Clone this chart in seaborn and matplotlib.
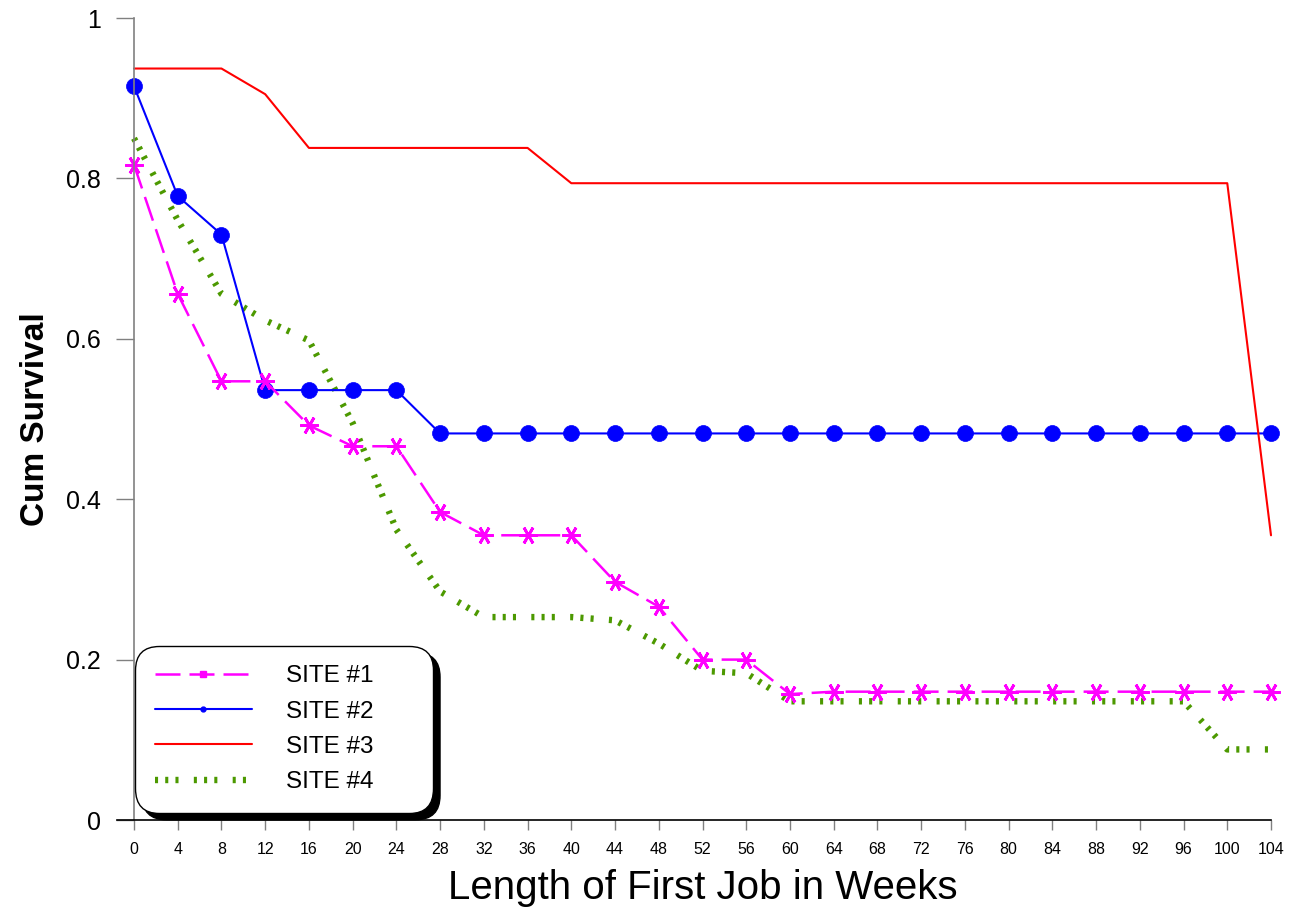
import matplotlib
matplotlib.use('Agg')
import matplotlib.pyplot as plt
from matplotlib.lines import Line2D
from matplotlib.patches import FancyBboxPatch
from matplotlib.transforms import IdentityTransform
import seaborn as sns

# weeks on the x axis
weeks = [0, 4, 8, 12, 16, 20, 24, 28, 32, 36, 40, 44, 48, 52,
         56, 60, 64, 68, 72, 76, 80, 84, 88, 92, 96, 100, 104]

# cumulative survival per site
site1 = [0.817, 0.656, 0.547, 0.547, 0.492, 0.466, 0.466, 0.384, 0.355,
         0.355, 0.355, 0.297, 0.266, 0.200, 0.200, 0.157, 0.160, 0.160,
         0.160, 0.160, 0.160, 0.160, 0.160, 0.160, 0.160, 0.160, 0.160]
site2 = [0.915, 0.778, 0.730, 0.536, 0.536, 0.536, 0.536, 0.482, 0.482,
         0.482, 0.482, 0.482, 0.482, 0.482, 0.482, 0.482, 0.482, 0.482,
         0.482, 0.482, 0.482, 0.482, 0.482, 0.482, 0.482, 0.482, 0.482]
site3 = [0.937, 0.937, 0.937, 0.905, 0.838, 0.838, 0.838, 0.838, 0.838,
         0.838, 0.794, 0.794, 0.794, 0.794, 0.794, 0.794, 0.794, 0.794,
         0.794, 0.794, 0.794, 0.794, 0.794, 0.794, 0.794, 0.794, 0.355]
site4 = [0.850, 0.748, 0.656, 0.623, 0.598, 0.495, 0.362, 0.285, 0.253,
         0.253, 0.253, 0.249, 0.220, 0.186, 0.183, 0.148, 0.148, 0.148,
         0.148, 0.148, 0.148, 0.148, 0.148, 0.148, 0.148, 0.088, 0.088]

labels = ['SITE #1', 'SITE #2', 'SITE #3', 'SITE #4']
ytick_vals = [0, 0.2, 0.4, 0.6, 0.8, 1]
ytick_labels = ['0', '0.2', '0.4', '0.6', '0.8', '1']

MAGENTA = '#ff00ff'
BLUE = '#0000ff'
RED = '#ff0000'
GREEN = '#4c9900'

sns.set_style('ticks')
plt.rcParams['font.family'] = ['Liberation Sans', 'DejaVu Sans']
plt.rcParams['text.color'] = 'black'
plt.rcParams['axes.labelcolor'] = 'black'
plt.rcParams['xtick.labelcolor'] = 'black'
plt.rcParams['ytick.labelcolor'] = 'black'

fig = plt.figure(figsize=(12.91, 9.17), dpi=100)
ax = fig.add_axes([134 / 1291, 1 - 820 / 917, 1137 / 1291, 802 / 917])

dash1 = (0, (10, 3.6))
dash4 = (0, (0.48, 1.12, 0.48, 1.12, 0.48, 2.4))

# site 4 - green dotted
sns.lineplot(x=weeks, y=site4, ax=ax, color=GREEN, linewidth=4.6,
             linestyle=dash4, dash_capstyle='butt', clip_on=False)
# site 2 - blue with filled dots
sns.lineplot(x=weeks, y=site2, ax=ax, color=BLUE, linewidth=1.5,
             marker='o', markersize=11.5, markeredgecolor=BLUE,
             markerfacecolor=BLUE, markeredgewidth=0.5, clip_on=False)
# site 1 - magenta dashed with asterisks
sns.lineplot(x=weeks, y=site1, ax=ax, color=MAGENTA, linewidth=1.8,
             linestyle=dash1, marker=(6, 2, 90), markersize=13,
             markeredgecolor=MAGENTA, markeredgewidth=2, clip_on=False)
# site 3 - red solid
sns.lineplot(x=weeks, y=site3, ax=ax, color=RED, linewidth=1.5, clip_on=False)

ax.set_xlim(0, 104)
ax.set_ylim(0, 1)
ax.set_xticks(weeks)
ax.set_xticklabels([str(w) for w in weeks])
ax.set_yticks(ytick_vals)
ax.set_yticklabels(ytick_labels)

ax.tick_params(axis='y', direction='out', length=13, width=1,
               color='#808080', labelsize=18, pad=11)
ax.tick_params(axis='x', direction='out', length=7.5, width=1,
               color='#808080', labelsize=11.5, pad=8)

sns.despine(ax=ax)
ax.spines['left'].set_color('#808080')
ax.spines['left'].set_linewidth(1.2)
ax.spines['bottom'].set_color('black')
ax.spines['bottom'].set_linewidth(1.2)
ax.spines['bottom'].set_bounds(-1.55, 104)

ax.set_xlabel('Length of First Job in Weeks', fontsize=29, labelpad=9)
ax.set_ylabel('Cum Survival', fontsize=24, fontweight='bold', labelpad=11)

# legend with custom handles like the original
handles = [
    Line2D([], [], color=MAGENTA, lw=1.8, linestyle=dash1, marker='s',
           markersize=4, markeredgecolor=MAGENTA),
    Line2D([], [], color=BLUE, lw=1.5, marker='o', markersize=3.5,
           markeredgecolor=BLUE),
    Line2D([], [], color=RED, lw=1.5),
    Line2D([], [], color=GREEN, lw=4.6, linestyle=dash4, dash_capstyle='butt'),
]
leg_size = 17.5
leg = ax.legend(handles, labels, loc='lower left', mode='expand',
                bbox_to_anchor=(0.001, 0.009, 0.262, 0.2), borderaxespad=0,
                frameon=True, fancybox=True, framealpha=1,
                fontsize=leg_size, handlelength=4.0, handletextpad=1.4,
                labelspacing=0.55, borderpad=0.8, numpoints=1)
frame = leg.get_frame()
frame.set_boxstyle('round', pad=0, rounding_size=1.0)
frame.set_edgecolor('black')
frame.set_linewidth(1.0)

# solid black drop shadow behind the legend box
fig.canvas.draw()
renderer = fig.canvas.get_renderer()
bb = frame.get_window_extent(renderer)
r = 1.0 * renderer.points_to_pixels(leg_size)
shadow = FancyBboxPatch((bb.x0 + 7, bb.y0 - 7), bb.width, bb.height,
                        boxstyle=f'round,pad=0,rounding_size={r}',
                        transform=IdentityTransform(), facecolor='black',
                        edgecolor='black', zorder=4.9)
shadow.set_clip_on(False)
ax.add_artist(shadow)

fig.savefig('out.png', dpi=100)
